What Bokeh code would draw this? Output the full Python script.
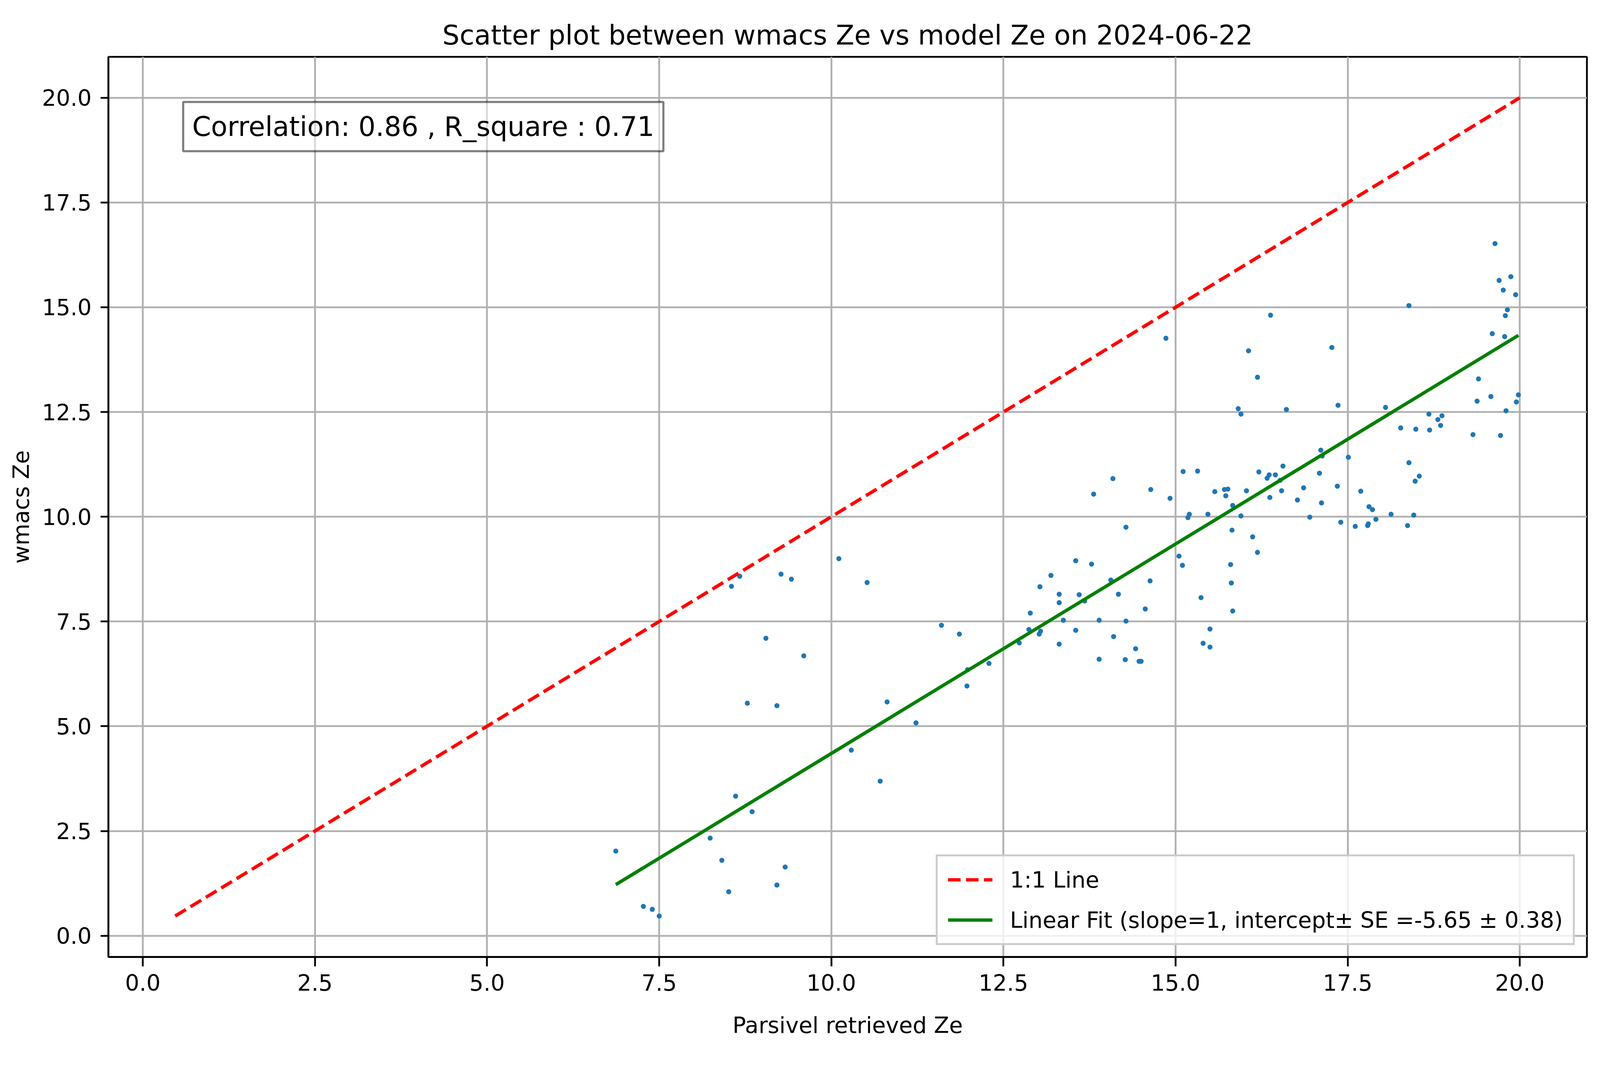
from bokeh.plotting import figure
from bokeh.models import Range1d, FixedTicker, PrintfTickFormatter, Label, Legend, LegendItem, ColumnDataSource
from bokeh.embed import file_html
from bokeh.resources import INLINE

# ---- data ----
parsivel_ze = [
    6.87, 7.27, 7.40, 7.50, 8.24, 8.41, 8.51, 8.61, 8.85, 9.21, 9.33, 8.55, 8.67, 9.27, 9.42, 10.11, 10.52, 9.05, 9.60, 8.78, 9.21, 10.29, 10.71, 10.81,
    13.81, 13.55, 13.78, 13.19, 13.03, 13.31, 13.31, 13.60, 13.68, 12.89, 13.37, 13.89, 12.87, 13.04, 13.02, 13.55, 12.73, 13.31, 13.89, 11.60, 11.86, 12.29, 11.98, 11.97, 11.23,
    14.86, 16.38, 16.06, 16.19, 15.91, 15.95, 16.61, 14.09, 14.64, 14.92, 15.11, 15.32, 15.57, 15.71, 15.76, 15.73, 15.83, 16.03, 16.21, 16.33, 16.36, 16.45, 16.52, 16.56, 16.37, 16.54, 16.77,
    15.20, 15.18, 15.47, 15.95, 15.82, 16.12, 16.19, 15.80, 15.81, 15.83, 15.05, 15.10, 15.37, 15.50, 15.40, 15.50, 14.06, 14.17, 14.63, 14.28, 14.56, 14.28, 14.10, 14.42, 14.27, 14.47, 14.50,
    18.39, 17.27, 17.36, 18.05, 18.27, 18.49, 17.11, 17.13, 17.51, 18.39, 18.54, 18.48, 17.09, 16.86, 17.35, 17.12, 17.69, 17.81, 17.86, 16.95, 17.40, 17.61, 17.80, 17.79, 17.91, 18.13, 18.46, 18.37,
    19.64, 19.70, 19.87, 19.76, 19.94, 19.82, 19.79, 19.60, 19.78, 19.40, 19.38, 19.58, 19.98, 19.95, 19.80, 18.68, 18.87, 18.81, 18.85, 18.69, 19.32, 19.72,
]
wmacs_ze = [
    2.02, 0.70, 0.63, 0.47, 2.33, 1.80, 1.05, 3.33, 2.96, 1.21, 1.64, 8.34, 8.58, 8.63, 8.51, 9.00, 8.43, 7.10, 6.68, 5.55, 5.49, 4.43, 3.69, 5.58,
    10.54, 8.95, 8.87, 8.60, 8.33, 8.15, 7.95, 8.14, 7.99, 7.70, 7.53, 7.53, 7.31, 7.27, 7.20, 7.29, 6.99, 6.96, 6.60, 7.41, 7.20, 6.50, 6.35, 5.96, 5.08,
    14.26, 14.81, 13.96, 13.33, 12.58, 12.45, 12.56, 10.91, 10.65, 10.44, 11.08, 11.09, 10.60, 10.65, 10.66, 10.50, 10.27, 10.62, 11.07, 10.92, 11.00, 11.00, 10.87, 11.21, 10.46, 10.62, 10.40,
    10.06, 9.98, 10.06, 10.02, 9.68, 9.52, 9.15, 8.86, 8.42, 7.75, 9.06, 8.84, 8.07, 7.32, 6.98, 6.89, 8.49, 8.15, 8.47, 9.75, 7.80, 7.51, 7.14, 6.85, 6.59, 6.55, 6.55,
    15.04, 14.04, 12.66, 12.61, 12.12, 12.09, 11.59, 11.45, 11.42, 11.29, 10.97, 10.85, 11.04, 10.69, 10.73, 10.33, 10.61, 10.24, 10.17, 9.99, 9.87, 9.77, 9.83, 9.79, 9.94, 10.06, 10.04, 9.79,
    16.52, 15.64, 15.73, 15.41, 15.30, 14.94, 14.80, 14.37, 14.30, 13.29, 12.76, 12.87, 12.91, 12.74, 12.53, 12.45, 12.41, 12.32, 12.18, 12.07, 11.96, 11.94,
]
one_to_one = [0.47, 20.0]
fit_slope = 1.0
fit_intercept = -5.65
fit_se = 0.38
correlation = 0.86
r_square = 0.71
tick_values = [0.0, 2.5, 5.0, 7.5, 10.0, 12.5, 15.0, 17.5, 20.0]

title_text = "Scatter plot between wmacs Ze vs model Ze on 2024-06-22"
x_label = "Parsivel retrieved Ze"
y_label = "wmacs Ze"
legend_one = "1:1 Line"
legend_fit = f"Linear Fit (slope={fit_slope:g}, intercept\u00b1 SE ={fit_intercept:.2f} \u00b1 {fit_se:.2f})"
annot_text = f"Correlation: {correlation:.2f} , R_square : {r_square:.2f}"

fit_x = [min(parsivel_ze), max(parsivel_ze)]
fit_y = [fit_slope * v + fit_intercept for v in fit_x]

FONT = "DejaVu Sans"
LW = 4.6

# canvas 4096 x 2700 css px
p = figure(
    output_backend="svg", toolbar_location=None,
    frame_width=3785, frame_height=2304,
    min_border_left=277, min_border_right=34, min_border_top=145, min_border_bottom=251,
    x_range=Range1d(-0.5, 20.975), y_range=Range1d(-0.507, 20.977),
    title=title_text,
    background_fill_color="white", border_fill_color="white",
)
p.title.text_font = FONT
p.title.text_font_size = "69px"
p.title.text_font_style = "normal"
p.title.text_color = "black"
p.title.align = "center"
p.title.standoff = 31

p.outline_line_color = "black"
p.outline_line_width = LW
p.outline_line_alpha = 1.0

for ax in (p.xaxis[0], p.yaxis[0]):
    ax.ticker = FixedTicker(ticks=tick_values)
    ax.formatter = PrintfTickFormatter(format="%.1f")
    ax.major_label_text_font = FONT
    ax.major_label_text_font_size = "57px"
    ax.major_label_text_color = "black"
    ax.axis_label_text_font = FONT
    ax.axis_label_text_font_size = "57px"
    ax.axis_label_text_font_style = "normal"
    ax.axis_label_text_color = "black"
    ax.axis_line_width = LW
    ax.axis_line_color = "black"
    ax.major_tick_line_width = LW
    ax.major_tick_line_color = "black"
    ax.major_tick_in = 0
    ax.minor_tick_line_color = None

p.xaxis.major_tick_out = 24
p.xaxis.major_label_standoff = 20
p.xaxis.axis_label_standoff = 52
p.yaxis.major_tick_out = 20
p.yaxis.major_label_standoff = 23
p.yaxis.axis_label_standoff = 18

p.xaxis.axis_label = x_label
p.yaxis.axis_label = y_label

for g in (p.xgrid[0], p.ygrid[0]):
    g.ticker = FixedTicker(ticks=tick_values)
    g.grid_line_color = "#b0b0b0"
    g.grid_line_width = LW

src = ColumnDataSource(dict(x=parsivel_ze, y=wmacs_ze))
p.scatter("x", "y", source=src, size=13, fill_color="#1f77b4", line_color=None)

r_one = p.line(one_to_one, one_to_one, line_color="red", line_width=8.6, line_dash="32 14")
r_fit = p.line(fit_x, fit_y, line_color="green", line_width=8.6)

legend = Legend(
    items=[LegendItem(label=legend_one, renderers=[r_one]), LegendItem(label=legend_fit, renderers=[r_fit])],
    location="bottom_right",
    label_text_font=FONT, label_text_font_size="57px", label_text_color="black",
    glyph_width=114, glyph_height=67, label_height=67,
    label_standoff=45, spacing=36, padding=26, margin=30,
    border_line_color="#cccccc", border_line_width=5, border_line_alpha=1.0,
    background_fill_color="white", background_fill_alpha=0.8,
)
p.add_layout(legend)

annot = Label(
    x=0.586, y=19.9, x_units="data", y_units="data",
    text=annot_text, text_font=FONT, text_font_size="69px", text_color="black",
    text_align="left", text_baseline="top",
    background_fill_color="white", background_fill_alpha=0.5,
    border_line_color="black", border_line_alpha=0.5, border_line_width=5.5,
    padding=23,
)
p.add_layout(annot)

open("out.html", "w").write(file_html(p, INLINE))
